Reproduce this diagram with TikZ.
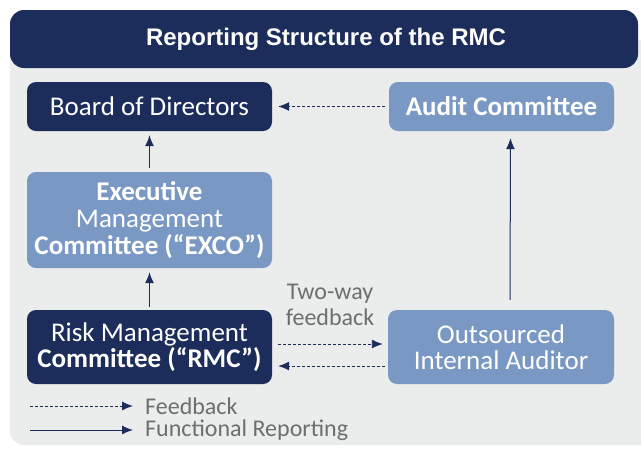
\documentclass[tikz,border=0pt]{standalone}
\usepackage{fontspec}
\setmainfont{Carlito}
\newfontfamily\titlefont{Liberation Sans}
\usetikzlibrary{arrows.meta,positioning}
\definecolor{Navy}{HTML}{1D2D5B}
\definecolor{Sky}{HTML}{7A98C4}
\definecolor{Panel}{HTML}{EBECEC}
\definecolor{Ink}{HTML}{6D6E70}

\begin{document}
\begin{tikzpicture}[x=1pt,y=-1pt,
        box/.style={rounded corners=9pt,align=center,inner sep=0pt,text=white,font=\fontsize{27}{27}\selectfont},
        dark/.style={box,fill=Navy},
        light/.style={box,fill=Sky},
        fun/.style={-{Latex[length=11pt,width=9pt]},line width=1pt,draw=Navy},
        fb/.style={-{Latex[length=11pt,width=9pt]},line width=0.9pt,draw=Navy,dash pattern=on 3pt off 2pt},
        lbl/.style={text=Ink,font=\fontsize{24}{26}\selectfont,inner sep=0pt}]
        \useasboundingbox (0,0) rectangle (641,448);
        \clip (0,0) rectangle (641,448);
        \fill[Panel,rounded corners=14pt] (10,40) rectangle (680,445);
        \fill[Navy,rounded corners=14pt] (10,10) rectangle (638,68);
        \node[text=white,font=\titlefont\bfseries\fontsize{24}{26}\selectfont] (title) at (326,39) {Reporting Structure of the RMC};
        \node[dark,minimum width=245pt,minimum height=49pt] (board) at (149.5,106.5) {Board of Directors};
        \node[light,minimum width=225pt,minimum height=49pt] (audit) at (501.5,106.5) {\textbf{Audit Committee}};
        \node[light,minimum width=245pt,minimum height=96pt] (exco) at (149.5,220) {\textbf{Executive}\\Management\\\textbf{Committee (“EXCO”)}};
        \node[dark,minimum width=245pt,minimum height=74pt,font=\fontsize{27}{26}\selectfont] (rmc) at (149.5,347) {Risk Management\\\textbf{Committee (“RMC”)}};
        \node[light,minimum width=226pt,minimum height=74pt,font=\fontsize{27}{26}\selectfont] (ia) at (501,347) {Outsourced\\Internal Auditor};
        \node[lbl,align=center,font=\fontsize{24}{26}\selectfont] (two) at (330,305) {Two-way\\feedback};
        \draw[fun,shorten <=4pt,shorten >=4pt] (exco) -- (board);
        \draw[fun,shorten <=3pt,shorten >=4pt] (rmc) -- (exco);
        \draw[fun,shorten <=10pt,shorten >=7pt] ([xshift=9pt]ia.north) -- ([xshift=9pt]audit.south);
        \draw[fb,shorten <=4pt,shorten >=6pt] (audit) -- (board);
        \draw[fb,shorten <=6pt,shorten >=5pt] ([yshift=3pt]rmc.east) -- ([yshift=3pt]ia.west);
        \draw[fb,shorten <=3pt,shorten >=6pt] ([yshift=-19pt]ia.west) -- ([yshift=-19pt]rmc.east);
        % legend
        \coordinate (fbstart) at (30,406);
        \coordinate (funstart) at (30,430);
        \node[lbl,anchor=west] (fbtext) at (145,406) {Feedback};
        \node[lbl,anchor=west] (funtext) at (145,430) {Functional Reporting};
        \draw[fb,shorten >=12pt] (fbstart) -- (fbtext.west);
        \draw[fun,shorten >=12pt] (funstart) -- (funtext.west);
\end{tikzpicture}
\end{document}
